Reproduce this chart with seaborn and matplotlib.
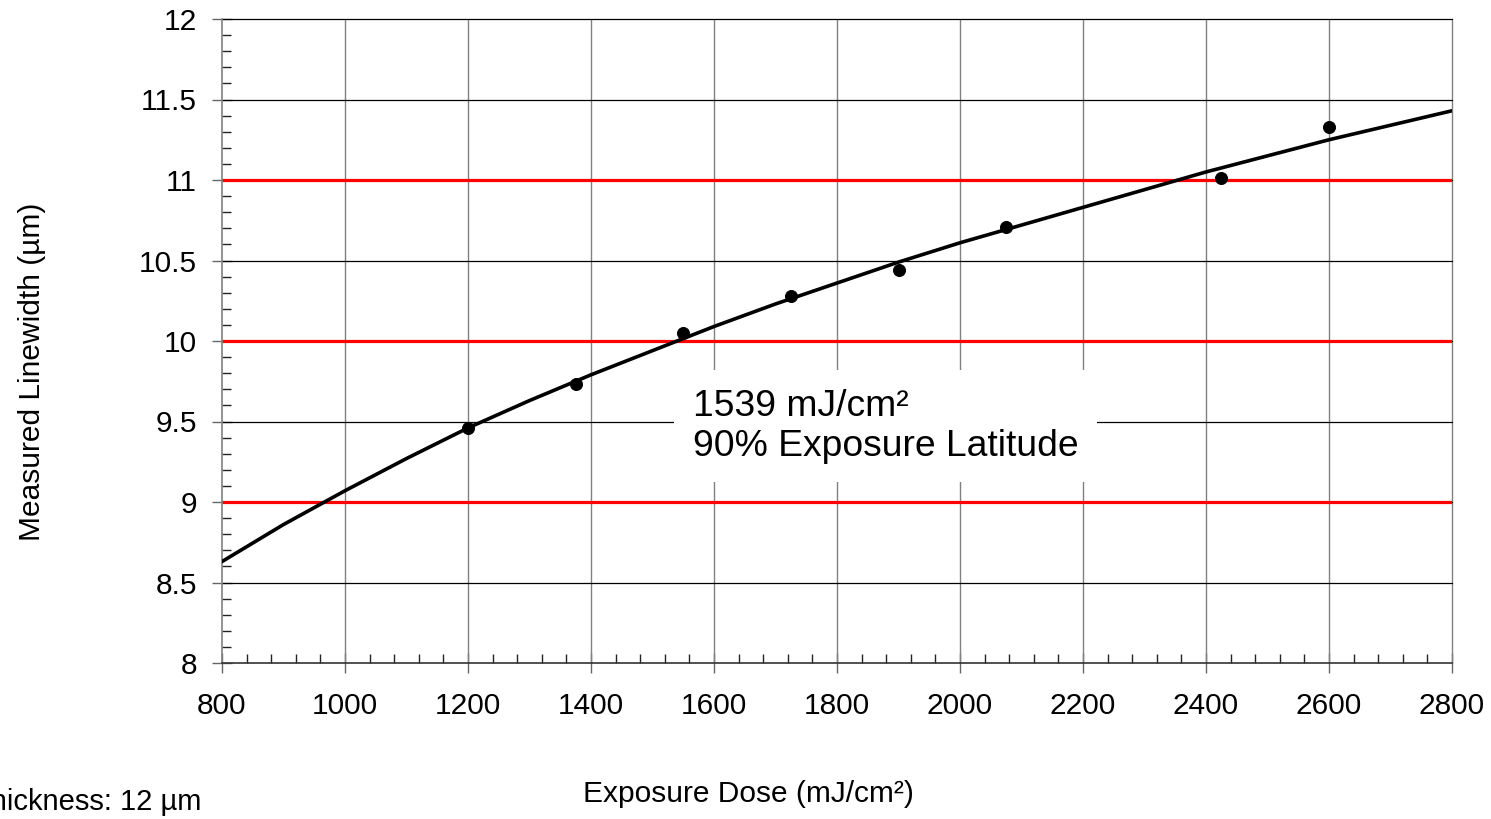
"""Linewidth vs exposure dose with 90% exposure latitude window."""

import matplotlib

matplotlib.use("Agg")
import matplotlib.pyplot as plt
import numpy as np
import pandas as pd
import seaborn as sns
from matplotlib.ticker import MultipleLocator

# measured points
dose = [1200, 1375, 1550, 1725, 1900, 2075, 2425, 2600]
linewidth = [9.46, 9.73, 10.05, 10.28, 10.44, 10.71, 11.01, 11.33]

# fitted curve
curve_dose = [800, 900, 1000, 1100, 1200, 1300, 1400, 1500, 1600, 1700, 1800,
              1900, 2000, 2100, 2200, 2300, 2400, 2500, 2600, 2700, 2800]
curve_width = [8.63, 8.86, 9.07, 9.27, 9.46, 9.63, 9.79, 9.94, 10.09, 10.23, 10.36,
               10.49, 10.61, 10.72, 10.83, 10.94, 11.05, 11.15, 11.25, 11.34, 11.43]

# target linewidth and +/-10% limits
spec_limits = [9, 10, 11]

annotation = "1539 mJ/cm²\n90% Exposure Latitude"
footnote = "Thickness: 12 µm"

sns.set_style("white")
plt.rcParams["font.family"] = ["Liberation Sans", "DejaVu Sans"]
plt.rcParams["text.color"] = "black"
plt.rcParams["axes.labelcolor"] = "black"
plt.rcParams["xtick.color"] = "black"
plt.rcParams["ytick.color"] = "black"

fig = plt.figure(figsize=(14.91, 8.19), dpi=100)
ax = fig.add_axes([222 / 1491, 1 - 663 / 819, 1230 / 1491, 644 / 819])

pts = pd.DataFrame({"dose": dose, "width": linewidth})
curve = pd.DataFrame({"dose": curve_dose, "width": curve_width})

for y in spec_limits:
    ax.axhline(y, color="#ff0000", lw=2.3, zorder=2)

sns.lineplot(data=curve, x="dose", y="width", color="black", lw=2.6, ax=ax, zorder=3)
sns.scatterplot(data=pts, x="dose", y="width", color="black", s=75, edgecolor="black",
                ax=ax, zorder=4)

ax.set_xlim(800, 2800)
ax.set_ylim(8, 12)
ax.xaxis.set_major_locator(MultipleLocator(200))
ax.xaxis.set_minor_locator(MultipleLocator(40))
ax.yaxis.set_minor_locator(MultipleLocator(0.1))
ax.set_yticks(np.arange(8, 12.01, 0.5))
ax.set_yticklabels(["8", "8.5", "9", "9.5", "10", "10.5", "11", "11.5", "12"])

ax.grid(False)
for x in range(1000, 2801, 200):
    ax.axvline(x, color="#808080", lw=1.0, zorder=1, clip_on=False)
for y in np.arange(8.5, 12.01, 0.5):
    ax.axhline(y, color="black", lw=0.9, zorder=1, clip_on=False)

for side in ["top", "right"]:
    ax.spines[side].set_visible(False)
ax.spines["left"].set_color("#808080")
ax.spines["left"].set_linewidth(1.2)
ax.spines["bottom"].set_color("#333333")
ax.spines["bottom"].set_linewidth(1.2)

ax.tick_params(which="both", bottom=True, left=True)
ax.tick_params(which="major", direction="inout", length=14, width=1.0, color="#666666",
               labelsize=21.5, pad=11)
ax.tick_params(which="minor", direction="in", length=6.5, width=1.0, color="#222222")
ax.tick_params(axis="x", which="major", pad=14)

ax.set_xlabel("Exposure Dose (mJ/cm²)", fontsize=21.5)
ax.set_ylabel("Measured Linewidth (µm)", fontsize=21.5)
ax.xaxis.set_label_coords(0.428, -0.182)
ax.yaxis.set_label_coords(-0.143, 0.452)

ax.text(1566, 9.47, annotation, fontsize=26.8, ha="left", va="center", linespacing=1.18,
        zorder=5, bbox=dict(boxstyle="square,pad=0.5", fc="white", ec="none"))

fig.text(201 / 1491, 1 - 788 / 819, footnote, fontsize=21, ha="right", va="top")

fig.savefig("out.png", dpi=100)
